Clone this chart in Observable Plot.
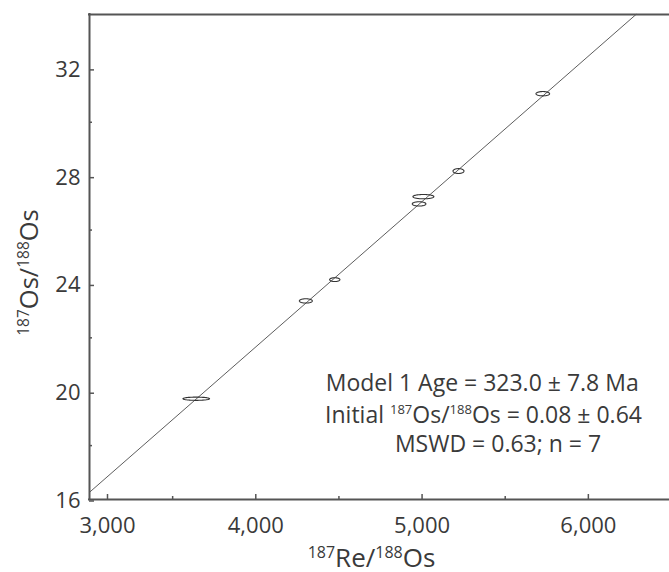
<!DOCTYPE html>
<html><head><meta charset="utf-8">
<script src="https://cdn.jsdelivr.net/npm/d3@7"></script>
<script src="https://cdn.jsdelivr.net/npm/@observablehq/plot@0.6"></script>
<style>body{margin:0;background:#fff} #chart svg{font-family:'Open Sans',sans-serif}</style>
</head><body><div id="chart"></div>
<script>
// Sample data (187Re/188Os, 187Os/188Os, 2-sigma half-widths of error ellipses)
const samples = ["S1","S2","S3","S4","S5","S6","S7"];
const reOs = [3642, 4301, 4475, 4982, 5008, 5219, 5726];
const osOs = [19.74, 23.37, 24.16, 26.97, 27.24, 28.19, 31.06];
const errRe = [80, 39, 31, 41, 63, 33, 41];
const errOs = [0.06, 0.08, 0.07, 0.08, 0.08, 0.09, 0.08];

// Axis ticks
const xMajor = [3000, 4000, 5000, 6000];
const xMinor = [3500, 4500, 5500];
const yMajor = [16, 20, 24, 28, 32];
const yMinor = [18, 22, 26, 30];
const xDomain = [3000, 6500];
const yDomain = [16, 34];

// Isochron result
const ageMa = 323.0, ageErr = 7.8, initialOs = 0.08, initialErr = 0.64, mswd = 0.63;
const lambdaRe = 1.666e-11;
const notes = [
  "Model 1 Age = 323.0 ± 7.8 Ma",
  "Initial 187Os/188Os = 0.08 ± 0.64",
  "MSWD = 0.63; n = 7"
];
const xTitle = "187Re/188Os";
const yTitle = "187Os/188Os";

// Derived tables
const slope = Math.expm1(lambdaRe * ageMa * 1e6);
const xEnd = Math.min(xDomain[1], (yDomain[1] - initialOs) / slope);
const isochron = [xDomain[0], xEnd].map(x => ({x, y: initialOs + slope * x}));
const ellipsePts = [];
samples.forEach((s, i) => {
  for (let k = 0; k <= 60; k++) {
    const a = 2 * Math.PI * k / 60;
    ellipsePts.push({s, x: reOs[i] + errRe[i] * Math.cos(a), y: osOs[i] + errOs[i] * Math.sin(a)});
  }
});

const ink = "#3a3a3a", frameCol = "#555";
const fmt = d3.format(",");

const chart = Plot.plot({
  width: 669, height: 572,
  marginLeft: 89, marginRight: -2, marginTop: 14, marginBottom: 73,
  style: {fontFamily: "'Open Sans', sans-serif", fontSize: "22px", color: ink, background: "white"},
  x: {domain: xDomain},
  y: {domain: yDomain},
  marks: [
    Plot.line(isochron, {x: "x", y: "y", stroke: "#333", strokeWidth: 0.8}),
    Plot.line(ellipsePts, {x: "x", y: "y", z: "s", stroke: "#333", strokeWidth: 1.1, fill: "none"}),
    Plot.ruleY([yDomain[0], yDomain[1]], {stroke: frameCol, strokeWidth: 2, strokeLinecap: "square"}),
    Plot.ruleX([xDomain[0]], {stroke: frameCol, strokeWidth: 2, strokeLinecap: "square"}),
    Plot.axisX({ticks: xMajor.slice(1), tickSize: -5, tickPadding: 23, tickFormat: fmt, label: null, stroke: frameCol, strokeWidth: 1.5, fontSize: 22, fill: ink}),
    Plot.axisX({ticks: xMajor.slice(0, 1), tickSize: -5, tickPadding: 23, tickFormat: fmt, label: null, stroke: frameCol, strokeWidth: 1.5, fontSize: 22, fill: ink, dx: 18}),
    Plot.axisX({ticks: xMinor, tickSize: -3, tickFormat: () => "", label: null, stroke: frameCol, strokeWidth: 1.5}),
    Plot.axisY({ticks: yMajor, tickSize: -5, tickPadding: 14, tickFormat: d => String(d), label: null, stroke: frameCol, strokeWidth: 1.5, fontSize: 22, fill: ink, dy: 1.5}),
    Plot.axisY({ticks: yMinor, tickSize: -3, tickFormat: () => "", label: null, stroke: frameCol, strokeWidth: 1.5}),
    Plot.text([xTitle], {text: d => d, frameAnchor: "bottom", textAnchor: "middle", lineAnchor: "bottom", dx: -9, dy: 67, fontSize: 26, fill: ink}),
    Plot.text([yTitle], {text: d => d, frameAnchor: "left", textAnchor: "middle", lineAnchor: "bottom", rotate: -90, dx: -51.5, dy: 15.5, fontSize: 25.5, fill: ink}),
    Plot.text([notes[0]], {text: d => d, frameAnchor: "top-left", textAnchor: "middle", lineAnchor: "bottom", dx: 481.7 - 89, dy: 390.7 - 14, fontSize: 23, fill: ink}),
    Plot.text([notes[1]], {text: d => d, frameAnchor: "top-left", textAnchor: "middle", lineAnchor: "bottom", dx: 483 - 89, dy: 422.3 - 14, fontSize: 23, fill: ink}),
    Plot.text([notes[2]], {text: d => d, frameAnchor: "top-left", textAnchor: "middle", lineAnchor: "bottom", dx: 497.5 - 89, dy: 451 - 14, fontSize: 23, fill: ink})
  ]
});
document.getElementById("chart").appendChild(chart);

// Turn isotope mass numbers into superscripts
function supify(plain, supSize, raise) {
  d3.select(chart).selectAll("text").each(function() {
    if (this.textContent !== plain) return;
    const parts = plain.split(/(187|188)/).filter(p => p.length);
    const sel = d3.select(this);
    sel.text(null);
    let up = false;
    parts.forEach(p => {
      const isSup = p === "187" || p === "188";
      const t = sel.append("tspan").text(p);
      if (isSup) {
        t.attr("font-size", supSize);
        if (!up) { t.attr("dy", -raise); up = true; }
      } else if (up) {
        t.attr("dy", raise); up = false;
      }
    });
  });
}
supify(xTitle, 16, 9);
supify(yTitle, 15.5, 9);
supify(notes[1], 13, 8.5);
</script>
</body></html>
